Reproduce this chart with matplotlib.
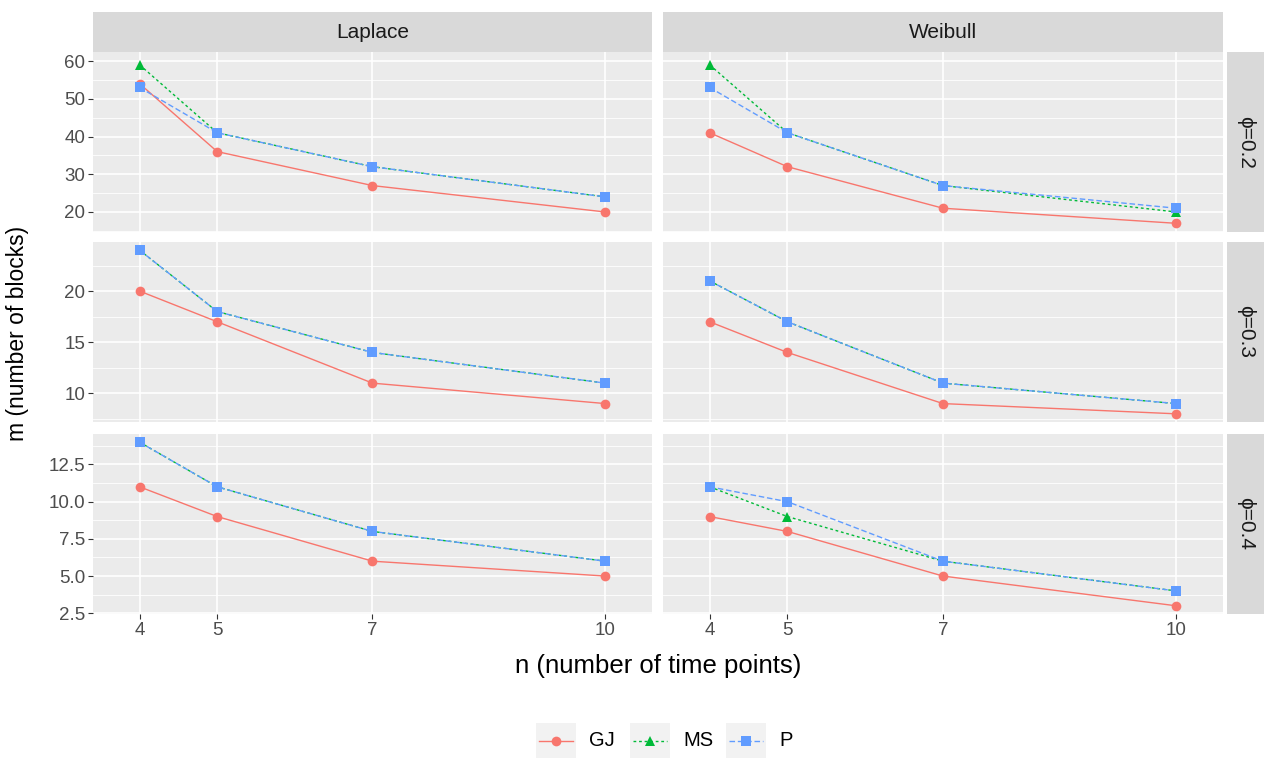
import matplotlib
matplotlib.use("Agg")
import matplotlib.pyplot as plt
from matplotlib.lines import Line2D
from matplotlib.patches import Rectangle

plt.rcParams['font.family'] = ['Liberation Sans', 'DejaVu Sans']

# ---------------- data ----------------
n_points = [4, 5, 7, 10]
distributions = ["Laplace", "Weibull"]
phi_labels = ["ϕ=0.2", "ϕ=0.3", "ϕ=0.4"]
methods = ["GJ", "MS", "P"]

# rows: phi = 0.2, 0.3, 0.4
gj_laplace = [[54, 36, 27, 20], [20, 17, 11, 9], [11, 9, 6, 5]]
ms_laplace = [[59, 41, 32, 24], [24, 18, 14, 11], [14, 11, 8, 6]]
p_laplace = [[53, 41, 32, 24], [24, 18, 14, 11], [14, 11, 8, 6]]

gj_weibull = [[41, 32, 21, 17], [17, 14, 9, 8], [9, 8, 5, 3]]
ms_weibull = [[59, 41, 27, 20], [21, 17, 11, 9], [11, 9, 6, 4]]
p_weibull = [[53, 41, 27, 21], [21, 17, 11, 9], [11, 10, 6, 4]]

y_major = [[20, 30, 40, 50, 60], [10, 15, 20], [2.5, 5.0, 7.5, 10.0, 12.5]]
y_ticklabels = [["20", "30", "40", "50", "60"], ["10", "15", "20"],
                ["2.5", "5.0", "7.5", "10.0", "12.5"]]

series = {
    "Laplace": [gj_laplace, ms_laplace, p_laplace],
    "Weibull": [gj_weibull, ms_weibull, p_weibull],
}

# ---------------- style ----------------
colors = ["#F8766D", "#00BA38", "#619CFF"]
markers = ["o", "^", "s"]
marker_sizes = [7, 7.5, 7]
dashes = [None, (2, 2), (4, 2)]
row_ylim = [(14.7, 62.4), (7.2, 24.8), (2.45, 14.55)]

W, H = 1264, 758
fig = plt.figure(figsize=(W / 100, H / 100), dpi=100)

def fx(px):
    return px / W

def fy(py):
    return 1 - py / H

col_x = [(93, 652), (663, 1223)]
row_y = [(52, 232), (242, 422), (434, 614)]
strip_top = (12, 52)
strip_right = (1227, 1264)

tick_col = "#4D4D4D"
tick_fs = 13.5

def minor_from_major(maj, lo, hi):
    step = maj[1] - maj[0]
    cands = [maj[0] - step / 2] + [m + step / 2 for m in maj]
    return [c for c in cands if lo <= c <= hi]

for r in range(3):
    ylim = row_ylim[r]
    for c, d in enumerate(distributions):
        x0, x1 = col_x[c]
        y0, y1 = row_y[r]
        ax = fig.add_axes([fx(x0), fy(y1), fx(x1) - fx(x0), fy(y0) - fy(y1)])
        ax.set_facecolor("#EBEBEB")
        for sp in ax.spines.values():
            sp.set_visible(False)
        ax.set_xlim(3.4, 10.6)
        ax.set_ylim(*ylim)
        for m in minor_from_major(y_major[r], *ylim):
            ax.axhline(m, color="white", lw=0.6, zorder=0.5)
        for m in y_major[r]:
            ax.axhline(m, color="white", lw=1.2, zorder=0.6)
        for xv in n_points:
            ax.axvline(xv, color="white", lw=1.2, zorder=0.6)
        for k in range(3):
            ln, = ax.plot(n_points, series[d][k][r], color=colors[k], lw=1.0,
                          zorder=2 + k * 0.1)
            if dashes[k] is not None:
                ln.set_dashes(dashes[k])
        for k in range(3):
            ax.plot(n_points, series[d][k][r], linestyle="none", marker=markers[k],
                    color=colors[k], markersize=marker_sizes[k], markeredgewidth=0,
                    zorder=3 + k * 0.1)
        ax.set_yticks(y_major[r])
        ax.set_xticks(n_points)
        ax.tick_params(axis="both", colors="#333333", length=3.5, width=0.8,
                       labelcolor=tick_col, labelsize=tick_fs, pad=2)
        if c == 0:
            ax.set_yticklabels(y_ticklabels[r])
        else:
            ax.tick_params(axis="y", length=0, labelleft=False)
        if r == 2:
            ax.set_xticklabels([str(v) for v in n_points])
        else:
            ax.tick_params(axis="x", length=0, labelbottom=False)

# top strips
for c, d in enumerate(distributions):
    x0, x1 = col_x[c]
    fig.patches.append(Rectangle((fx(x0), fy(strip_top[1])), fx(x1) - fx(x0),
                                 fy(strip_top[0]) - fy(strip_top[1]),
                                 transform=fig.transFigure, facecolor="#D9D9D9",
                                 edgecolor="none", zorder=0))
    fig.text(fx((x0 + x1) / 2), fy(sum(strip_top) / 2), d, ha="center", va="center",
             fontsize=15, color="#1A1A1A")

# right strips
for r in range(3):
    y0, y1 = row_y[r]
    fig.patches.append(Rectangle((fx(strip_right[0]), fy(y1)),
                                 fx(strip_right[1]) - fx(strip_right[0]),
                                 fy(y0) - fy(y1), transform=fig.transFigure,
                                 facecolor="#D9D9D9", edgecolor="none", zorder=0))
    fig.text(fx(sum(strip_right) / 2), fy((y0 + y1) / 2), phi_labels[r], ha="center",
             va="center", rotation=-90, fontsize=15, color="#1A1A1A")

# axis titles
fig.text(fx((col_x[0][0] + col_x[1][1]) / 2), fy(666), "n (number of time points)",
         ha="center", va="center", fontsize=18.5, color="black")
fig.text(fx(18), fy((row_y[0][0] + row_y[2][1]) / 2), "m (number of blocks)",
         ha="center", va="center", rotation=90, fontsize=16.5, color="black")

# legend (manual, ggplot-style keys)
key_w, key_h = 40, 37
key_cy = 741
key_x = [536, 630, 726]
for k, m in enumerate(methods):
    kx = key_x[k]
    fig.patches.append(Rectangle((fx(kx), fy(key_cy + key_h / 2)), fx(key_w),
                                 key_h / H, transform=fig.transFigure,
                                 facecolor="#F2F2F2", edgecolor="none"))
    ln = Line2D([fx(kx + 3), fx(kx + key_w - 3)], [fy(key_cy), fy(key_cy)],
                transform=fig.transFigure, color=colors[k], lw=1.0)
    if dashes[k] is not None:
        ln.set_dashes(dashes[k])
    fig.add_artist(ln)
    fig.add_artist(Line2D([fx(kx + key_w / 2)], [fy(key_cy)], transform=fig.transFigure,
                          marker=markers[k], color=colors[k], markersize=marker_sizes[k],
                          markeredgewidth=0, linestyle="none"))
    fig.text(fx(kx + key_w + 13), fy(key_cy), m, ha="left", va="center",
             fontsize=14.5, color="black")

fig.savefig("out.png", dpi=100, facecolor="white")
